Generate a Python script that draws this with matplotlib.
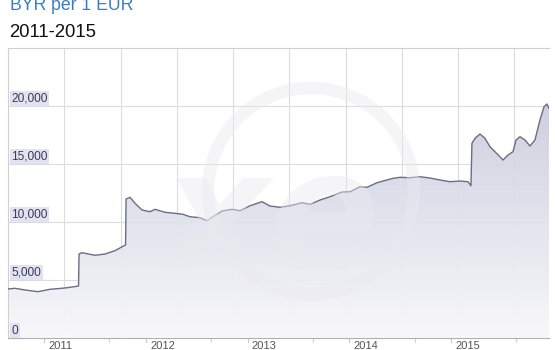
#!/usr/bin/env python3
"""
BYR per 1 EUR, 2011-2015 (xe style area chart)
"""
import numpy as np
import matplotlib
matplotlib.use('Agg')
import matplotlib.pyplot as plt
from matplotlib.patches import Ellipse

plt.rcParams['font.family'] = ['Liberation Sans', 'DejaVu Sans']

# chart position in years and BYR per EUR
years = [2010.646, 2010.715, 2010.813, 2010.941, 2011.059, 2011.206, 2011.324, 2011.339,
         2011.344, 2011.373, 2011.501, 2011.599, 2011.697, 2011.786, 2011.801,
         2011.806, 2011.845, 2011.894, 2011.963, 2012.041, 2012.090, 2012.189, 2012.287,
         2012.365, 2012.434, 2012.532, 2012.601, 2012.660, 2012.749, 2012.847, 2012.925,
         2013.024, 2013.141, 2013.220, 2013.318, 2013.417, 2013.534, 2013.613, 2013.711,
         2013.809, 2013.927, 2014.006, 2014.104, 2014.173, 2014.271, 2014.428, 2014.497,
         2014.595, 2014.693, 2014.792, 2014.890, 2014.988, 2015.086, 2015.165, 2015.194,
         2015.204, 2015.234, 2015.283, 2015.332, 2015.381, 2015.430, 2015.479, 2015.509,
         2015.558, 2015.607, 2015.637, 2015.676, 2015.725, 2015.774, 2015.823, 2015.872,
         2015.912, 2015.941, 2015.961]
rate = [4224, 4284, 4138, 3991, 4198, 4310, 4457, 4482,
        7241, 7353, 7129, 7241, 7525, 7956, 8017,
        11982, 12128, 11611, 11034, 10887, 11094, 10835, 10749,
        10663, 10456, 10370, 10111, 10456, 10947, 11094, 10973,
        11404, 11749, 11378, 11266, 11404, 11663, 11525, 11896,
        12180, 12585, 12611, 13042, 12990, 13387, 13766, 13852,
        13818, 13904, 13792, 13620, 13473, 13533, 13473, 13128,
        16783, 17214, 17585, 17214, 16490, 16059, 15628, 15344,
        15775, 16059, 17068, 17352, 17068, 16550, 17068, 18792,
        19939, 20171, 19800]

year_labels = [2011, 2012, 2013, 2014, 2015]
y_ticks = [0, 5000, 10000, 15000, 20000]
grid_x = [2011.196, 2011.756, 2012.306, 2012.857, 2013.407, 2013.967,
          2014.517, 2015.067, 2015.617]

fig = plt.figure(figsize=(5.55, 3.5), dpi=100)
ax = fig.add_axes([8 / 555, 12 / 350, 541 / 555, 290 / 350])

x0, x1 = 2010.646, 2015.961
ax.set_xlim(x0, x1)
ax.set_ylim(0, 25000)

# grid
for v in y_ticks[1:]:
    ax.axhline(v, color='#dcdcdc', lw=0.8, zorder=1)
for gx in grid_x:
    ax.axvline(gx, color='#dcdcdc', lw=0.8, zorder=1)

# gradient fill under the line
poly = ax.fill_between(years, rate, 0, color='none', lw=0)
grad = np.linspace(0, 1, 256).reshape(-1, 1)
cmap = matplotlib.colors.LinearSegmentedColormap.from_list('g', ['#f8f8fb', '#c0c3d6'])
im = ax.imshow(grad, cmap=cmap, aspect='auto', origin='lower',
               extent=[x0, x1, 0, 25000], zorder=2, alpha=0.95)
im.set_clip_path(poly.get_paths()[0], transform=ax.transData)
ax.plot(years, rate, color='#6a6d86', lw=1.0, zorder=4)

# faint xe watermark
ring = Ellipse((311 / 555, 1 - 191 / 350), 206 / 555, 206 / 350, transform=fig.transFigure,
               fill=False, ec='#eaeaf0', lw=9, alpha=0.45, zorder=3)
fig.add_artist(ring)
fig.text(272 / 555, 1 - 222 / 350, 'xe', fontsize=118, fontweight='bold', fontstyle='italic',
         family='DejaVu Sans', color='#eaeaf0', alpha=0.45, ha='center', va='center', zorder=3)

# frame
for side in ['left', 'top']:
    ax.spines[side].set_color('#d0d0d0')
ax.spines['bottom'].set_color('#b0b0b0')
ax.spines['right'].set_visible(False)
ax.set_xticks([])
ax.set_yticks([])

# y labels inside the plot
for v in y_ticks:
    ax.annotate(f'{v:,}', xy=(0, v), xycoords=('axes fraction', 'data'),
                xytext=(2.5, 1), textcoords='offset points', ha='left', va='bottom',
                fontsize=8.6, color='#3a3c55', zorder=6,
                bbox=dict(boxstyle='square,pad=0.12', fc='#e2e3f0', ec='none'))

# x labels and ticks below the axis
for yr in year_labels:
    ax.plot([yr, yr], [0, -0.013], transform=ax.get_xaxis_transform(),
            color='#c8c8c8', lw=0.8, clip_on=False)
    ax.plot([yr + 0.64, yr + 0.64], [0, -0.013], transform=ax.get_xaxis_transform(),
            color='#d4d4d4', lw=0.8, clip_on=False)
    ax.annotate(str(yr), xy=(yr, 0), xycoords=('data', 'axes fraction'),
                xytext=(3, -2), textcoords='offset points', ha='left', va='top',
                fontsize=8.0, color='#555555')

fig.text(10 / 555, 1 - 10.5 / 350, 'BYR per 1 EUR', fontsize=12.7, color='#3b7dc4',
         ha='left', va='baseline')
fig.text(9 / 555, 1 - 37 / 350, '2011-2015', fontsize=13.3, color='#111111',
         ha='left', va='baseline')

fig.savefig('out.png', dpi=100)
